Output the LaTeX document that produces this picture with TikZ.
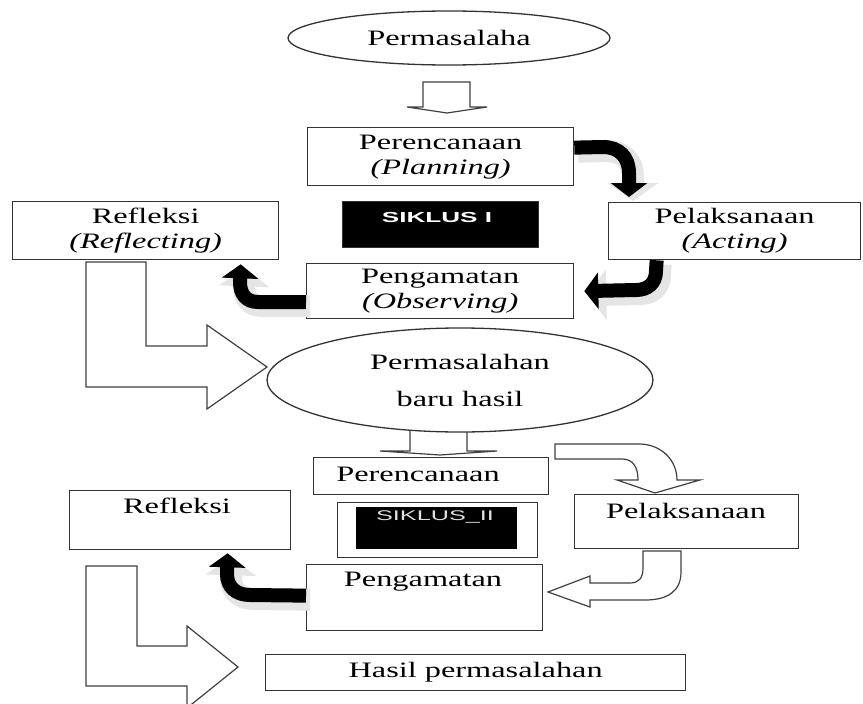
\documentclass[tikz,border=0pt]{standalone}
\usepackage{fontspec}
\setmainfont{Liberation Serif}[FakeStretch=1.47]
\newfontfamily\siklusfont{Liberation Sans}[FakeStretch=1.8]
\usetikzlibrary{arrows.meta, shapes.geometric}

\begin{document}
\begin{tikzpicture}[x=1pt, y=-1pt,
  kotak/.style={draw=black!80, line width=1.3pt, fill=white, anchor=north west, inner sep=0pt, align=center, font=\fontsize{22}{25}\selectfont},
  teks/.style={font=\fontsize{22}{25}\selectfont, inner sep=0pt},
  blok/.style={draw=black!75, line width=1.2pt, fill=white, line join=miter},
  panah/.style={line width=14pt, -{Triangle[width=36pt,length=14pt]}},
  bayang/.style={line width=22pt, gray!20, -{Triangle[width=50pt,length=18pt]}, transform canvas={xshift=4pt,yshift=-4pt}}
]
\fill[white] (0,0) rectangle (863,704);
\useasboundingbox (0,0) rectangle (863,704);
\clip (0,0) rectangle (863,704);

% siklus I
\node[kotak, ellipse, anchor=center, minimum width=322pt, minimum height=54pt] (masalah) at (449,38) {Permasalaha};
\draw[blok] (423,82) -- (470,82) -- (470,107) -- (487,107) -- (447,113) -- (407,107) -- (423,107) -- cycle;

\node[kotak, minimum width=266pt, minimum height=58pt] (perencanaan1) at (307,127) {Perencanaan\\\textit{(Planning)}};
\node[kotak, minimum width=266pt, minimum height=58pt] (refleksi1) at (12,201) {Refleksi\\\textit{(Reflecting)}};
\node[kotak, fill=black, minimum width=196pt, minimum height=46pt] (siklus1) at (342,201) {};
\node[font=\siklusfont\bfseries\fontsize{14.5}{16}\selectfont, text=white] (tsiklus1) at (437,218) {SIKLUS I};
\node[kotak, minimum width=252pt, minimum height=57pt] (pelaksanaan1) at (608,202) {Pelaksanaan\\\textit{(Acting)}};
\node[kotak, minimum width=267pt, minimum height=55pt] (pengamatan1) at (306,263) {Pengamatan\\\textit{(Observing)}};

\draw[bayang] ([yshift=9pt]perencanaan1.east) -- (603,147) .. controls (619,147) and (629,157) .. (629,173) -- ([xshift=21pt,yshift=5pt]pelaksanaan1.north west);
\draw[panah] ([yshift=9pt]perencanaan1.east) -- (603,147) .. controls (619,147) and (629,157) .. (629,173) -- ([xshift=21pt,yshift=5pt]pelaksanaan1.north west);
\draw[bayang] ([xshift=-78pt]pelaksanaan1.south) -- (656,271) .. controls (656,283) and (648,290) .. (636,290) -- ([xshift=10pt]pengamatan1.east);
\draw[panah] ([xshift=-78pt]pelaksanaan1.south) -- (656,271) .. controls (656,283) and (648,290) .. (636,290) -- ([xshift=10pt]pengamatan1.east);
\draw[bayang] ([yshift=-11pt]pengamatan1.west) -- (258,302) .. controls (246,302) and (240,294) .. (240,282) -- ([xshift=95pt,yshift=-4pt]refleksi1.south);
\draw[panah] ([yshift=-11pt]pengamatan1.west) -- (258,302) .. controls (246,302) and (240,294) .. (240,282) -- ([xshift=95pt,yshift=-4pt]refleksi1.south);

\draw[blok] (86,262) -- (146,262) -- (146,346) -- (207,346) -- (207,325) -- (267,367) -- (207,409) -- (207,387) -- (86,387) -- cycle;
\draw[blok] (410,430) -- (467,430) -- (467,451) -- (497,451) -- (440,455) -- (380,451) -- (410,451) -- cycle;
\node[kotak, ellipse, anchor=center, minimum width=386pt, minimum height=104pt] (masalahbaru) at (460,380) {Permasalahan\\[12pt]baru hasil};

% siklus II
\node[kotak, minimum width=235pt, minimum height=37pt] (perencanaan2) at (313,457) {};
\node[teks] (tperencanaan2) at (418,474) {Perencanaan};
\node[kotak, minimum width=200pt, minimum height=55pt] (siklus2) at (337,502) {};
\node[fill=black, anchor=north west, inner sep=0pt, minimum width=161pt, minimum height=42pt] (siklus2isi) at (356,507) {};
\node[font=\siklusfont\fontsize{14}{16}\selectfont, text=black!12] (tsiklus2) at (435,517) {SIKLUS\_II};

\draw[blok] (555,444) -- (639,444) .. controls (661,444) and (677,460) .. (677,480) -- (700,480) -- (655,493) -- (617,480) -- (638,480) .. controls (638,467) and (633,459) .. (622,459) -- (555,459) -- cycle;
\node[kotak, minimum width=224pt, minimum height=54pt] (pelaksanaan2) at (574,494) {};
\node[teks] (tpelaksanaan2) at (686,511) {Pelaksanaan};
\draw[blok] (643,551) -- (681,551) -- (681,572) .. controls (681,591) and (668,600) .. (645,600) -- (590,600) -- (590,607) -- (548,592) -- (590,576) -- (590,583) -- (630,583) .. controls (639,583) and (643,578) .. (643,568) -- cycle;

\node[kotak, minimum width=221pt, minimum height=59pt] (refleksi2) at (69,490) {};
\node[teks] (trefleksi2) at (177,506) {Refleksi};
\node[kotak, minimum width=236pt, minimum height=66pt] (pengamatan2) at (306,564) {};
\node[teks] (tpengamatan2) at (423,582) {Pengamatan};

\draw[bayang] ([yshift=2pt]pengamatan2.west) -- (250,595) .. controls (236,595) and (227,587) .. (227,574) -- ([xshift=47.5pt,yshift=-3pt]refleksi2.south);
\draw[panah] ([yshift=2pt]pengamatan2.west) -- (250,595) .. controls (236,595) and (227,587) .. (227,574) -- ([xshift=47.5pt,yshift=-3pt]refleksi2.south);

\draw[blok] (86,566) -- (137,566) -- (137,646) -- (187,646) -- (187,626) -- (238,667) -- (187,708) -- (187,686) -- (86,686) -- cycle;
\node[kotak, minimum width=420pt, minimum height=36pt] (hasil) at (265,654) {Hasil permasalahan};
\end{tikzpicture}
\end{document}
